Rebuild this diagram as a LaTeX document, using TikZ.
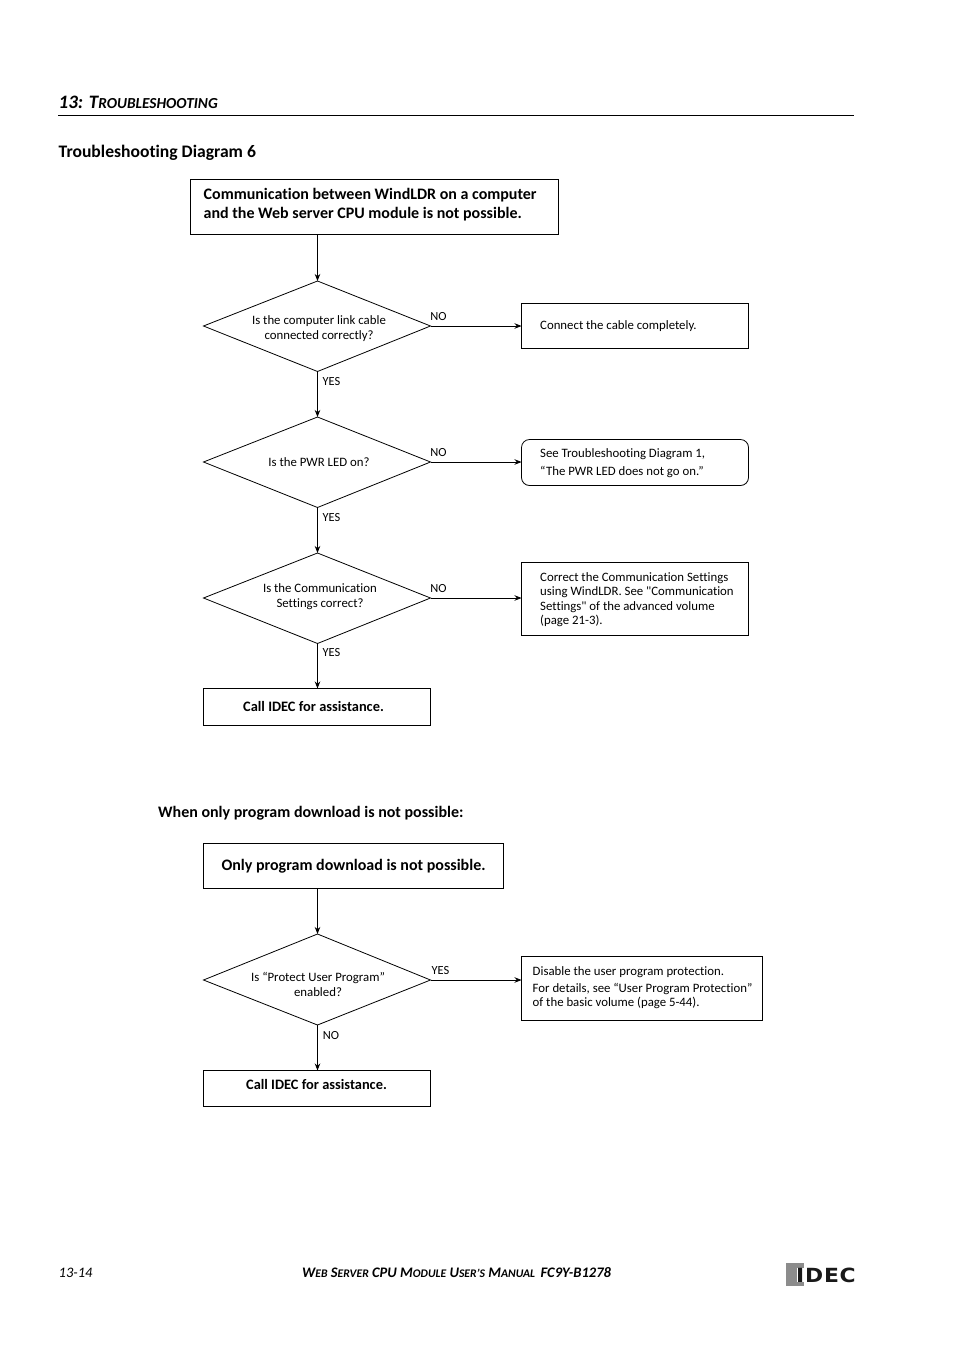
\documentclass[tikz,border=0pt]{standalone}
\usepackage{fontspec}
\setmainfont[Ligatures=NoCommon]{Carlito}
\newfontfamily\rawfont{Carlito}
\newfontfamily\logofont[LetterSpace=4,FakeStretch=1.12]{DejaVu Sans}
\usetikzlibrary{arrows.meta}
\newcommand{\fs}[1]{\fontsize{#1}{#1}\selectfont}
\newcommand{\fsl}[2]{\fontsize{#1}{#2}\selectfont}
\tikzset{
 x=1pt,y=-1pt,
 box/.style={draw=black,line width=0.8pt,fill=white},
 lbl/.style={inner sep=0,font=\fsl{12.8}{15},align=center},
 lft/.style={inner sep=0,anchor=west,align=left,font=\fsl{12.8}{15}},
 tag/.style={inner sep=0,font=\fs{12.4}},
 conn/.style={draw=black,line width=0.8pt,-{Stealth[length=7pt,width=5.5pt]}},
}
\begin{document}
\begin{tikzpicture}
\useasboundingbox (0,0) rectangle (954,1350);
\fill[white] (0,0) rectangle (954,1350);
% header
\node[inner sep=0,anchor=base west,font=\fs{19}\bfseries\itshape] (head) at (58.5,108) {13: T{\fs{15.3}ROUBLESHOOTING}};
\coordinate (hl) at (58,115.5); \coordinate (hr) at (854,115.5);
\draw[line width=0.9pt] (hl) -- (hr);
\node[inner sep=0,anchor=base west,font=\fs{17.6}\bfseries] (title) at (58.5,157) {Troubleshooting Diagram 6};
% first flow
\draw[box] (190.5,179.5) rectangle (558.5,234.5);
\node[inner sep=0,anchor=west,align=left,font=\fsl{16}{19}\bfseries] (start) at (203.5,204.5) {Communication between WindLDR on a computer\\and the Web server CPU module is not possible.};
\coordinate (startb) at (317.5,234.5);
\draw[box] (203.5,326) -- (317.5,281) -- (430.5,326) -- (317.5,371.5) -- cycle;
\coordinate (d1t) at (317.5,281); \coordinate (d1b) at (317.5,371.5); \coordinate (d1r) at (430.5,326);
\node[lbl] (d1) at (319,329) {Is the computer link cable\\connected correctly?};
\draw[box] (521.5,303.5) rectangle (748.5,348.5);
\coordinate (b1l) at (521.5,326);
\node[lft] (b1) at (540,326) {Connect the cable completely.};
\draw[box] (203.5,462) -- (317.5,417) -- (430.5,462) -- (317.5,507.5) -- cycle;
\coordinate (d2t) at (317.5,417); \coordinate (d2b) at (317.5,507.5); \coordinate (d2r) at (430.5,462);
\node[lbl] (d2) at (319,462) {Is the PWR LED on?};
\draw[box,rounded corners=8pt] (521.5,439.5) rectangle (748.5,485.5);
\coordinate (b2l) at (521.5,462.5);
\node[inner sep=0,anchor=west,align=left,font=\fsl{12.8}{18}] (b2) at (540,463.5) {See Troubleshooting Diagram 1,\\“The PWR LED does not go on.”};
\draw[box] (203.5,598) -- (317.5,553) -- (430.5,598) -- (317.5,643.5) -- cycle;
\coordinate (d3t) at (317.5,553); \coordinate (d3b) at (317.5,643.5); \coordinate (d3r) at (430.5,598);
\node[lbl] (d3) at (320,597) {Is the Communication\\Settings correct?};
\draw[box] (521.5,562.5) rectangle (748.5,635.5);
\coordinate (b3l) at (521.5,598);
\node[inner sep=0,anchor=west,align=left,font=\fsl{12.8}{14.4}] (b3) at (540,599.8) {Correct the Communication Settings\\using WindLDR. See {\rawfont"}Communication\\Settings{\rawfont"} of the advanced volume\\(page 21-3).};
\draw[box] (203.5,688.5) rectangle (430.5,725.5);
\coordinate (e1t) at (317.5,688.5);
\node[inner sep=0,font=\fs{14.4}\bfseries] (e1) at (313.5,706.5) {Call IDEC for assistance.};
\draw[conn] (startb) -- (d1t);
\draw[conn] (d1b) -- (d2t);
\draw[conn] (d2b) -- (d3t);
\draw[conn] (d3b) -- (e1t);
\draw[conn] (d1r) -- (b1l);
\draw[conn] (d2r) -- (b2l |- d2r);
\draw[conn] (d3r) -- (b3l);
\node[tag] at (331.5,381.5) {YES};
\node[tag] at (331.5,517.5) {YES};
\node[tag] at (331.5,652.5) {YES};
\node[tag] at (438.5,316.5) {NO};
\node[tag] at (438.5,452.5) {NO};
\node[tag] at (438.5,588.5) {NO};
% second flow
\node[inner sep=0,anchor=base west,font=\fs{16}\bfseries] (sub) at (158,817) {When only program download is not possible:};
\draw[box] (203.5,843.5) rectangle (503.5,888.5);
\coordinate (s2b) at (317.5,888.5);
\node[inner sep=0,font=\fs{16}\bfseries] (s2) at (353.5,866) {Only program download is not possible.};
\draw[box] (203.5,980) -- (317.5,934) -- (430.5,980) -- (317.5,1025) -- cycle;
\coordinate (d4t) at (317.5,934); \coordinate (d4b) at (317.5,1025); \coordinate (d4r) at (430.5,980);
\node[lbl] (d4) at (318,984) {Is “Protect User Program”\\enabled?};
\draw[box] (521.5,956.5) rectangle (762.5,1020.5);
\coordinate (b4l) at (521.5,980);
\node[inner sep=0,anchor=west,align=left,font=\fsl{12.8}{16}] (b4) at (532.5,987.5) {Disable the user program protection.\\[1pt]For details, see “User Program Protection”\\[-1.5pt]of the basic volume (page 5-44).};
\draw[box] (203.5,1070.5) rectangle (430.5,1106.5);
\coordinate (e2t) at (317.5,1070.5);
\node[inner sep=0,font=\fs{14.4}\bfseries] (e2) at (316.5,1084.5) {Call IDEC for assistance.};
\draw[conn] (s2b) -- (d4t);
\draw[conn] (d4r) -- (b4l);
\draw[conn] (d4b) -- (e2t);
\node[tag] at (440.5,970.5) {YES};
\node[tag] at (331,1035.5) {NO};
% footer
\node[inner sep=0,anchor=base west,font=\fs{14.5}\itshape] (pg) at (58.5,1277) {13-14};
\node[inner sep=0,anchor=base west,font=\fs{14.55}\bfseries\itshape] (foot) at (302,1277) {W{\fs{11.65}EB} S{\fs{11.65}ERVER} CPU M{\fs{11.65}ODULE} U{\fs{11.65}SER’S} M{\fs{11.65}ANUAL}\hspace{5.5pt}FC9Y-B1278};
% logo
\fill[black!45] (786,1263) rectangle (803.5,1286);
\fill[white] (797,1268) rectangle (803.5,1282);
\node[inner sep=0,anchor=base west,font=\logofont\fs{19.5}\bfseries,text=black!90] (logo) at (796,1282) {IDEC};
\end{tikzpicture}
\end{document}
